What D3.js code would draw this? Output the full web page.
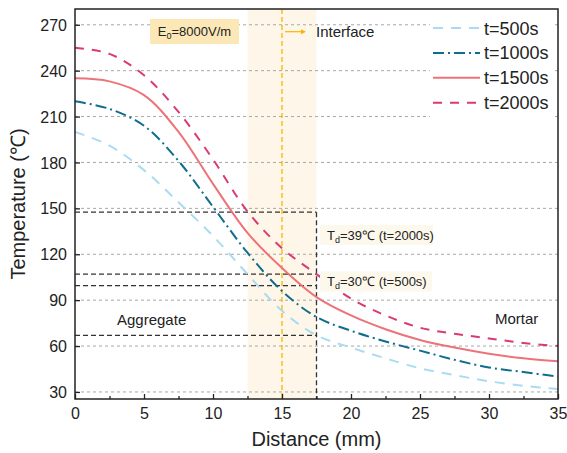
<!DOCTYPE html>
<html>
<head>
<meta charset="utf-8">
<script src="https://cdn.jsdelivr.net/npm/d3@7"></script>
<style>
  body { margin: 0; background: #fff; }
  svg { font-family: Arial, "Liberation Sans", sans-serif; }
</style>
</head>
<body>
<div id="chart"></div>
<script>
// distance along the sample (mm)
const distance = [0, 2.5, 5, 7.5, 10, 12.5, 15, 17.5, 20, 22.5, 25, 27.5, 30, 32.5, 35];
// temperature (°C) at each distance
const t500  = [200, 191, 175, 154, 132, 107, 83, 67, 59, 52, 45.5, 41, 37, 34, 32];
const t1000 = [220, 215, 204, 181, 151, 121, 96, 79, 70, 63, 57, 51, 46, 43, 40];
const t1500 = [235, 233, 224, 200, 166, 134, 111, 92, 80, 71, 64, 59, 55, 52, 50];
const t2000 = [255, 251, 237, 213, 182, 148, 124, 107, 91, 80, 72, 68, 65, 62, 60];
const seriesNames = ['t=500s', 't=1000s', 't=1500s', 't=2000s'];

const xTicks = [0, 5, 10, 15, 20, 25, 30, 35];
const xMinorTicks = [2.5, 7.5, 12.5, 17.5, 22.5, 27.5, 32.5];
const yTicks = [30, 60, 90, 120, 150, 180, 210, 240, 270];

const interfaceZone = [12.5, 17.5];
const interfaceX = 15;
const tdLevels = [147.5, 107, 99.5, 67];

const width = 567, height = 453;
const margin = {top: 9, right: 9, bottom: 54, left: 75};
const innerW = width - margin.left - margin.right;
const innerH = height - margin.top - margin.bottom;

const svg = d3.select('#chart').append('svg')
    .attr('width', width)
    .attr('height', height);

const g = svg.append('g')
    .attr('transform', `translate(${margin.left},${margin.top})`);

const x = d3.scaleLinear().domain([0, 35]).range([0, innerW]);
const y = d3.scaleLinear().domain([25.4, 280.3]).range([innerH, 0]);

// shaded interface zone
g.append('rect')
    .attr('x', x(interfaceZone[0]))
    .attr('y', 0)
    .attr('width', x(interfaceZone[1]) - x(interfaceZone[0]))
    .attr('height', innerH)
    .attr('fill', '#fef7e9');

// horizontal gridlines
g.selectAll('.grid')
    .data(yTicks)
    .join('line')
    .attr('class', 'grid')
    .attr('x1', 0).attr('x2', innerW)
    .attr('y1', d => y(d)).attr('y2', d => y(d))
    .attr('stroke', '#a8a8a8')
    .attr('stroke-width', 1)
    .attr('stroke-dasharray', '3,3');

// interface line
g.append('line')
    .attr('x1', x(interfaceX)).attr('x2', x(interfaceX))
    .attr('y1', 0).attr('y2', innerH)
    .attr('stroke', '#f7b500')
    .attr('stroke-width', 1.3)
    .attr('stroke-dasharray', '5,3');

// Td guide lines
g.selectAll('.td')
    .data(tdLevels)
    .join('line')
    .attr('class', 'td')
    .attr('x1', 0).attr('x2', x(interfaceZone[1]))
    .attr('y1', d => y(d)).attr('y2', d => y(d))
    .attr('stroke', '#333')
    .attr('stroke-width', 1.3)
    .attr('stroke-dasharray', '5,3');

g.append('line')
    .attr('x1', x(interfaceZone[1])).attr('x2', x(interfaceZone[1]))
    .attr('y1', y(d3.max(tdLevels))).attr('y2', innerH)
    .attr('stroke', '#333')
    .attr('stroke-width', 1.3)
    .attr('stroke-dasharray', '5,3');

// series
const styles = [
  {color: '#a9dcf1', dash: '10,8'},
  {color: '#0f6d8d', dash: '11,4,2,4'},
  {color: '#ec7479', dash: null},
  {color: '#d93a75', dash: '9,8'}
];
const allSeries = [t500, t1000, t1500, t2000];

const line = d3.line()
    .x((d, i) => x(distance[i]))
    .y(d => y(d))
    .curve(d3.curveCatmullRom.alpha(0.5));

g.selectAll('.series')
    .data(allSeries)
    .join('path')
    .attr('class', 'series')
    .attr('d', line)
    .attr('fill', 'none')
    .attr('stroke', (d, i) => styles[i].color)
    .attr('stroke-width', 2)
    .attr('stroke-dasharray', (d, i) => styles[i].dash);

// E0 box
g.append('rect')
    .attr('x', 75).attr('y', 10)
    .attr('width', 89).attr('height', 25)
    .attr('fill', '#fbe8b6');
const e0 = g.append('text')
    .attr('x', 119.5).attr('y', 27)
    .attr('text-anchor', 'middle')
    .attr('font-size', 13)
    .attr('fill', '#222');
e0.append('tspan').text('E');
e0.append('tspan').attr('font-size', 9).attr('dy', 3).text('0');
e0.append('tspan').attr('dy', -3).text('=8000V/m');

// interface arrow
const arrowY = 22.7;
g.append('line')
    .attr('x1', x(interfaceX) + 3).attr('x2', x(interfaceX) + 21)
    .attr('y1', arrowY).attr('y2', arrowY)
    .attr('stroke', '#f7b500').attr('stroke-width', 1.2);
g.append('path')
    .attr('d', `M${x(interfaceX) + 24},${arrowY} l-5,-2.5 l0,5 z`)
    .attr('fill', '#f7b500');
g.append('text')
    .attr('x', x(interfaceX) + 34).attr('y', 28)
    .attr('font-size', 15)
    .attr('fill', '#222')
    .text('Interface');

// Td labels
const tdLabels = [
  {y: 216, h: 20, w: 113, td: '39', t: '2000s'},
  {y: 262.5, h: 20, w: 112, td: '30', t: '500s'}
];
tdLabels.forEach(l => {
  g.append('rect')
      .attr('x', 245).attr('y', l.y)
      .attr('width', l.w).attr('height', l.h)
      .attr('fill', '#fdf8ec');
  const t = g.append('text')
      .attr('x', 252).attr('y', l.y + 14.5)
      .attr('font-size', 13)
      .attr('fill', '#222');
  t.append('tspan').text('T');
  t.append('tspan').attr('font-size', 9).attr('dy', 3).text('d');
  t.append('tspan').attr('dy', -3).text(`=${l.td}℃ (t=${l.t})`);
});

// region labels
g.append('text')
    .attr('x', 42).attr('y', 316)
    .attr('font-size', 15).attr('fill', '#222')
    .text('Aggregate');
g.append('text')
    .attr('x', 420).attr('y', 315)
    .attr('font-size', 15).attr('fill', '#222')
    .text('Mortar');

// legend
const legend = g.append('g');
legend.append('rect')
    .attr('x', 355).attr('y', 5)
    .attr('width', 123).attr('height', 106)
    .attr('fill', '#fff');
const legendItem = legend.selectAll('.legend-item')
    .data(seriesNames)
    .join('g')
    .attr('class', 'legend-item')
    .attr('transform', (d, i) => `translate(358,${19 + i * 24.9})`);
legendItem.append('line')
    .attr('x1', 0).attr('x2', 47)
    .attr('stroke', (d, i) => styles[i].color)
    .attr('stroke-width', 2)
    .attr('stroke-dasharray', (d, i) => styles[i].dash);
legendItem.append('text')
    .attr('x', 51).attr('y', 6.5)
    .attr('font-size', 18)
    .attr('fill', '#222')
    .text(d => d);

// axes
const xAxis = d3.axisBottom(x).tickValues(xTicks).tickSize(-5).tickPadding(9);
const xMinor = d3.axisBottom(x).tickValues(xMinorTicks).tickSize(-3).tickFormat('');
const yAxis = d3.axisLeft(y).tickValues(yTicks).tickSize(-5).tickPadding(8);

const xg = g.append('g')
    .attr('transform', `translate(0,${innerH})`)
    .call(xAxis);
g.append('g')
    .attr('transform', `translate(0,${innerH})`)
    .call(xMinor)
    .call(a => a.select('.domain').remove());
const yg = g.append('g').call(yAxis);

[xg, yg].forEach(a => {
  a.select('.domain').remove();
  a.selectAll('.tick text').attr('font-size', 16).attr('fill', '#222')
      .attr('font-family', 'Arial, "Liberation Sans", sans-serif');
});
g.selectAll('.tick line').attr('stroke', '#222').attr('stroke-width', 1.3);
yg.selectAll('.tick text').attr('dy', '0.35em');

// frame
g.append('rect')
    .attr('x', 0).attr('y', 0)
    .attr('width', innerW).attr('height', innerH)
    .attr('fill', 'none')
    .attr('stroke', '#222')
    .attr('stroke-width', 1.5);

// axis titles
svg.append('text')
    .attr('x', margin.left + innerW / 2)
    .attr('y', 446)
    .attr('text-anchor', 'middle')
    .attr('font-size', 20)
    .attr('fill', '#222')
    .text('Distance (mm)');
svg.append('text')
    .attr('transform', `translate(25,${margin.top + innerH / 2}) rotate(-90)`)
    .attr('text-anchor', 'middle')
    .attr('font-size', 20)
    .attr('fill', '#222')
    .text('Temperature (℃)');
</script>
</body>
</html>
